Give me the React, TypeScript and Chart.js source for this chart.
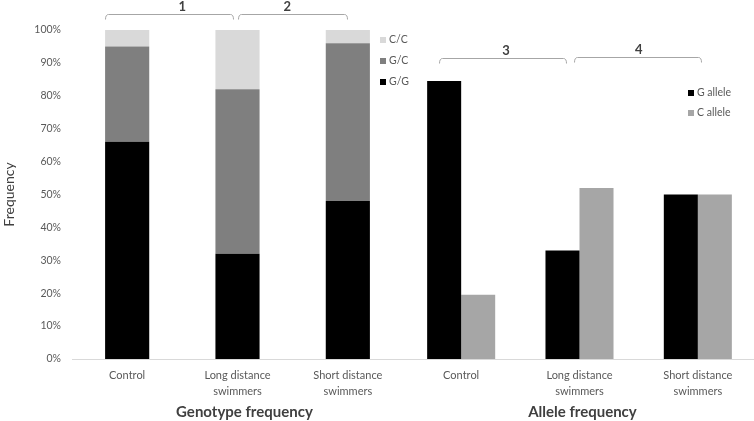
import React, { useEffect, useRef } from 'react';
import { Chart, registerables } from 'chart.js';

Chart.register(...registerables);

// ---- data ----
const categories: string[][] = [['Control'], ['Long distance', 'swimmers'], ['Short distance', 'swimmers']];

const genotypeLabels = ['G/G', 'G/C', 'C/C'];
const genotypeGG = [66, 32, 48];
const genotypeGC = [29, 50, 48];
const genotypeCC = [5, 18, 4];

const alleleLabels = ['G allele', 'C allele'];
const alleleG = [84.5, 33, 50];
const alleleC = [19.5, 52, 50];

const yMin = 0;
const yMax = 100;
const yStep = 10;

// brackets: from/to/labelAt in category index units, level in y-value units
const genotypeBrackets = [
  { label: '1', from: -0.2, to: 0.96, labelAt: 0.5, level: 104.9 },
  { label: '2', from: 1.0, to: 1.99, labelAt: 1.45, level: 104.9 },
];
const alleleBrackets = [
  { label: '3', from: -0.19, to: 0.89, labelAt: 0.38, level: 91.5 },
  { label: '4', from: 0.95, to: 2.03, labelAt: 1.5, level: 91.8 },
];

const genotypeTitle = 'Genotype frequency';
const alleleTitle = 'Allele frequency';
const yTitle = 'Frequency';

// ---- styles ----
const FONT = 'Lato, "Open Sans", sans-serif';
const TEXT = '#595959';
const DARK = '#404040';
const genotypeColors = ['#000000', '#7f7f7f', '#d9d9d9'];
const alleleColors = ['#000000', '#a6a6a6'];

const W = 760;
const H = 421;

type Bracket = { label: string; from: number; to: number; labelAt: number; level: number };

function makeAnnot(
  brackets: Bracket[],
  legendItems: { text: string; color: string }[],
  legendFromRight: number,
  legendFromTop: number,
  legendGap: number,
  title: string,
  titleIndex: number
) {
  return {
    id: 'annot',
    afterDraw(chart: any) {
      const ctx = chart.ctx as CanvasRenderingContext2D;
      const xs = chart.scales.x;
      const ys = chart.scales.y;
      const area = chart.chartArea;
      ctx.save();
      // brackets
      brackets.forEach((b) => {
        const x1 = Math.round(xs.getPixelForValue(b.from)) + 0.5;
        const x2 = Math.round(xs.getPixelForValue(b.to)) + 0.5;
        const yy = Math.round(ys.getPixelForValue(b.level)) + 0.5;
        ctx.strokeStyle = '#a6a6a6';
        ctx.lineWidth = 1;
        ctx.beginPath();
        ctx.moveTo(x1, yy + 5);
        ctx.quadraticCurveTo(x1, yy, x1 + 3, yy);
        ctx.lineTo(x2 - 3, yy);
        ctx.quadraticCurveTo(x2, yy, x2, yy + 5);
        ctx.stroke();
        ctx.fillStyle = DARK;
        ctx.font = `bold 13px ${FONT}`;
        ctx.textAlign = 'center';
        ctx.textBaseline = 'middle';
        ctx.fillText(b.label, xs.getPixelForValue(b.labelAt), yy - 7.5);
      });
      // legend
      const lx = area.right - legendFromRight;
      legendItems.forEach((it, i) => {
        const cy = area.top + legendFromTop + i * legendGap;
        ctx.fillStyle = it.color;
        ctx.fillRect(lx, cy - 3, 6, 6);
        ctx.fillStyle = TEXT;
        ctx.font = `10.5px ${FONT}`;
        ctx.textAlign = 'left';
        ctx.textBaseline = 'middle';
        ctx.fillText(it.text, lx + 9, cy);
      });
      // axis group title
      ctx.fillStyle = DARK;
      ctx.font = `bold 15px ${FONT}`;
      ctx.textAlign = 'center';
      ctx.textBaseline = 'middle';
      ctx.fillText(title, xs.getPixelForValue(titleIndex), chart.height - 9);
      ctx.restore();
    },
  };
}

const xScale = () => ({
  type: 'category' as const,
  grid: { display: false, drawTicks: false },
  border: { display: true, color: '#d9d9d9', width: 1 },
  ticks: {
    color: TEXT,
    font: { family: FONT, size: 11, lineHeight: 1.4 },
    padding: 9,
    maxRotation: 0,
    autoSkip: false,
  },
  afterFit(scale: any) {
    scale.height = 62;
  },
});

export default function App() {
  const leftRef = useRef<HTMLCanvasElement>(null);
  const rightRef = useRef<HTMLCanvasElement>(null);

  useEffect(() => {
    document.body.style.margin = '0';
    const left = new Chart(leftRef.current!, {
      type: 'bar',
      data: {
        labels: categories,
        datasets: [
          { label: genotypeLabels[0], data: genotypeGG, backgroundColor: genotypeColors[0] },
          { label: genotypeLabels[1], data: genotypeGC, backgroundColor: genotypeColors[1] },
          { label: genotypeLabels[2], data: genotypeCC, backgroundColor: genotypeColors[2] },
        ],
      },
      options: {
        responsive: false,
        animation: false,
        events: [],
        layout: { padding: { top: 30, right: W - 403, left: 0, bottom: 0 } },
        datasets: { bar: { categoryPercentage: 1, barPercentage: 0.4 } },
        plugins: { legend: { display: false }, tooltip: { enabled: false } },
        scales: {
          x: { ...xScale(), stacked: true },
          y: {
            stacked: true,
            min: yMin,
            max: yMax,
            grid: { display: false, drawTicks: false },
            border: { display: false },
            ticks: {
              stepSize: yStep,
              color: TEXT,
              font: { family: FONT, size: 10.5 },
              padding: 11,
              callback: (v: any) => `${v}%`,
            },
            title: {
              display: true,
              text: yTitle,
              color: DARK,
              font: { family: FONT, size: 14, lineHeight: 1.2 },
              padding: { top: 1, bottom: 0 },
            },
            afterFit(scale: any) {
              scale.width = 72;
            },
          },
        },
      },
      plugins: [
        makeAnnot(
          genotypeBrackets,
          [
            { text: genotypeLabels[2], color: genotypeColors[2] },
            { text: genotypeLabels[1], color: genotypeColors[1] },
            { text: genotypeLabels[0], color: genotypeColors[0] },
          ],
          23,
          10,
          21,
          genotypeTitle,
          1.063
        ),
      ],
    } as any);

    const right = new Chart(rightRef.current!, {
      type: 'bar',
      data: {
        labels: categories,
        datasets: [
          { label: alleleLabels[0], data: alleleG, backgroundColor: alleleColors[0] },
          { label: alleleLabels[1], data: alleleC, backgroundColor: alleleColors[1] },
        ],
      },
      options: {
        responsive: false,
        animation: false,
        events: [],
        layout: { padding: { top: 30, right: 3, left: 402, bottom: 0 } },
        datasets: { bar: { categoryPercentage: 0.575, barPercentage: 1 } },
        plugins: { legend: { display: false }, tooltip: { enabled: false } },
        scales: {
          x: { ...xScale(), stacked: false },
          y: { display: false, min: yMin, max: yMax },
        },
      },
      plugins: [
        makeAnnot(
          alleleBrackets,
          [
            { text: alleleLabels[0], color: alleleColors[0] },
            { text: alleleLabels[1], color: alleleColors[1] },
          ],
          69,
          63,
          20,
          alleleTitle,
          1.025
        ),
      ],
    } as any);

    return () => {
      left.destroy();
      right.destroy();
    };
  }, []);

  const canvasStyle: React.CSSProperties = { position: 'absolute', left: 0, top: 0, width: W, height: H };
  return (
    <div style={{ position: 'relative', width: 754, height: 421, overflow: 'hidden', background: '#fff' }}>
      <canvas ref={leftRef} width={W} height={H} style={canvasStyle} />
      <canvas ref={rightRef} width={W} height={H} style={canvasStyle} />
    </div>
  );
}
